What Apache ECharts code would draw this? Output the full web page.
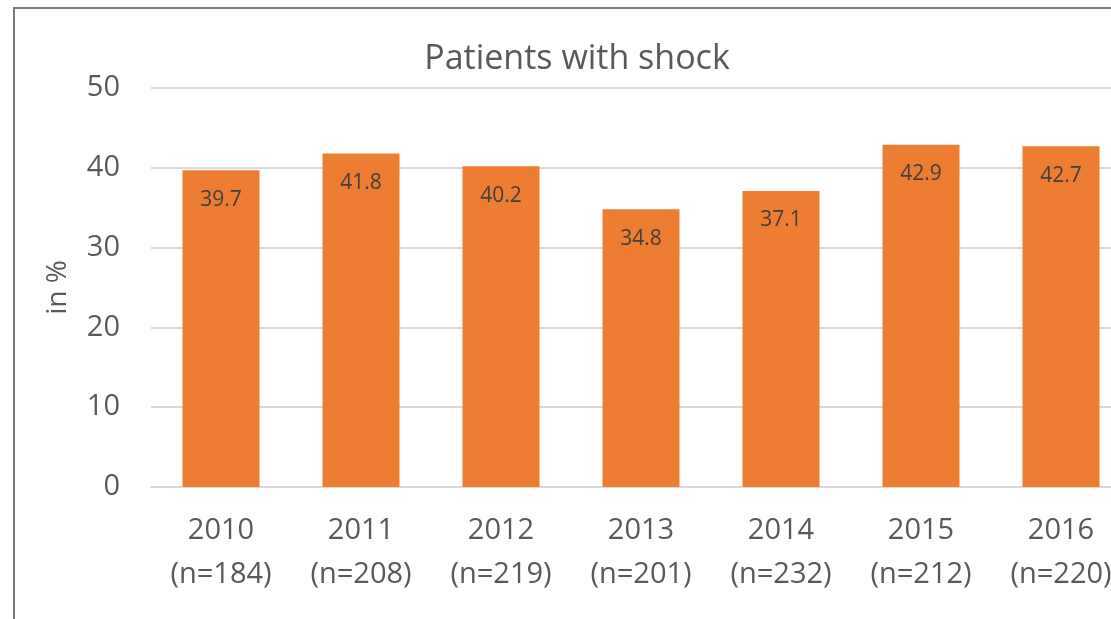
<!DOCTYPE html>
<html>
<head>
<meta charset="utf-8">
<script src="https://cdn.jsdelivr.net/npm/echarts@6/dist/echarts.min.js"></script>
<style>
  html, body { margin: 0; padding: 0; background: #fff; }
  .chart-wrap { position: relative; width: 1111px; height: 619px; overflow: hidden; }
  .chart-frame {
    position: absolute; left: 13px; top: 7px; right: -10px; bottom: -10px;
    border-left: 2px solid #7a7a7a; border-top: 2px solid #7a7a7a;
    pointer-events: none;
  }
  #chart { width: 1111px; height: 619px; }
</style>
</head>
<body>
<div class="chart-wrap">
  <div id="chart"></div>
  <div class="chart-frame"></div>
</div>
<script>
const years = ["2010", "2011", "2012", "2013", "2014", "2015", "2016"];
const patients = [184, 208, 219, 201, 232, 212, 220];
const shockPercent = [39.7, 41.8, 40.2, 34.8, 37.1, 42.9, 42.7];

const categories = years.map((y, i) => y + "\n(n=" + patients[i] + ")");

const chart = echarts.init(document.getElementById("chart"));
chart.setOption({
  animation: false,
  title: {
    text: "Patients with shock",
    left: 572,
    top: 37,
    textAlign: "center",
    textStyle: {
      fontFamily: "Open Sans",
      fontSize: 34,
      fontWeight: "normal",
      color: "#595959",
    },
  },
  grid: {
    left: 151,
    width: 980,
    top: 88,
    bottom: 132,
    containLabel: false,
    outerBoundsMode: "none",
  },
  xAxis: {
    type: "category",
    data: categories,
    axisLine: { lineStyle: { color: "#d9d9d9", width: 2 } },
    axisTick: { show: false },
    axisLabel: {
      margin: 22,
      fontFamily: "Open Sans",
      fontSize: 29,
      lineHeight: 44,
      color: "#595959",
    },
  },
  yAxis: {
    type: "value",
    min: 0,
    max: 50,
    interval: 10,
    name: "in %",
    nameLocation: "middle",
    nameGap: 79,
    nameRotate: 90,
    nameTextStyle: {
      fontFamily: "Open Sans",
      fontSize: 28,
      color: "#595959",
    },
    axisLine: { show: false },
    axisTick: { show: false },
    axisLabel: {
      margin: 31,
      fontFamily: "Open Sans",
      fontSize: 29,
      color: "#595959",
    },
    splitLine: { lineStyle: { color: "#d9d9d9", width: 2 } },
  },
  series: [
    {
      type: "bar",
      data: shockPercent,
      barWidth: 77,
      itemStyle: { color: "#ED7D31" },
      label: {
        show: true,
        position: "insideTop",
        distance: 19,
        fontFamily: "Open Sans",
        fontSize: 21,
        color: "#404040",
      },
    },
  ],
});
</script>
</body>
</html>
